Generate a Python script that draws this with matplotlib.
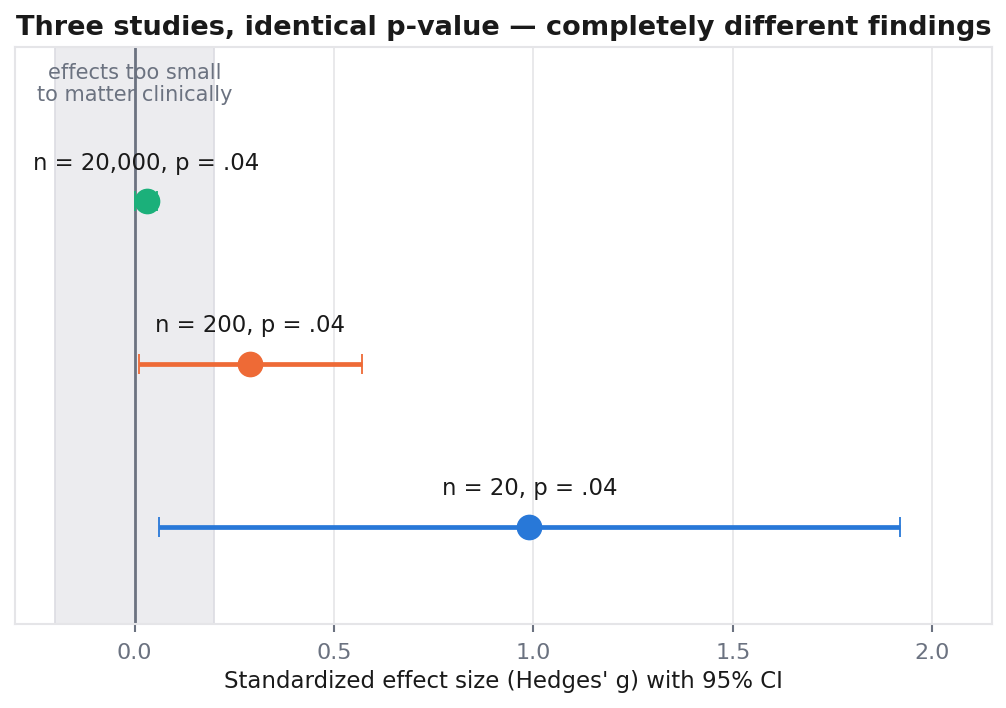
import matplotlib.pyplot as plt

labels = ["n = 20,000, p = .04", "n = 200, p = .04", "n = 20, p = .04"]
effects = [0.03, 0.29, 0.99]
ci_low = [0.0, 0.01, 0.06]
ci_high = [0.055, 0.57, 1.92]
ypos = [2, 1, 0]
colors = ["#1bb07a", "#ee6a36", "#2878d8"]

fig = plt.figure(figsize=(10.06, 7.08), dpi=100)
ax = fig.add_axes([0.0149, 0.1186, 0.9712, 0.815])

ax.axvspan(-0.2, 0.2, color="#ececef", ec="#dcdce2", lw=1.2, zorder=0)
ax.axvline(0, color="#6b7280", lw=2, zorder=1)

for lab, e, lo, hi, y, c in zip(labels, effects, ci_low, ci_high, ypos, colors):
    ax.errorbar(e, y, xerr=[[e - lo], [hi - e]], fmt="o", color=c, ms=17.5,
                elinewidth=3.4, capsize=7, capthick=1.3, zorder=3)
    ax.text(e, y + 0.195, lab, ha="center", va="baseline", fontsize=16.4, color="#1a1a1a")

ax.text(0, 2.725, "effects too small\nto matter clinically", ha="center", va="center",
        fontsize=15, color="#6b7280", linespacing=1.12)

ax.set_xlim(-0.3, 2.15)
ax.set_ylim(-0.6, 2.95)
ax.set_yticks([])
ax.set_xticks([0.0, 0.5, 1.0, 1.5, 2.0])
ax.set_xticklabels(["0.0", "0.5", "1.0", "1.5", "2.0"])
ax.tick_params(axis="x", colors="#6b7280", labelsize=16, length=6, width=1.5, pad=8)
ax.grid(axis="x", color="#e5e5e8", lw=1.2, zorder=0)
ax.set_axisbelow(True)
for s in ax.spines.values():
    s.set_color("#e5e5e8")
    s.set_linewidth(1.5)

ax.set_xlabel("Standardized effect size (Hedges' g) with 95% CI", fontsize=16.5, color="#1a1a1a", labelpad=5)
ax.set_title("Three studies, identical p-value \u2014 completely different findings",
             fontsize=19.5, fontweight="bold", color="#1a1a1a", pad=9)

fig.savefig("out.png", dpi=100)
